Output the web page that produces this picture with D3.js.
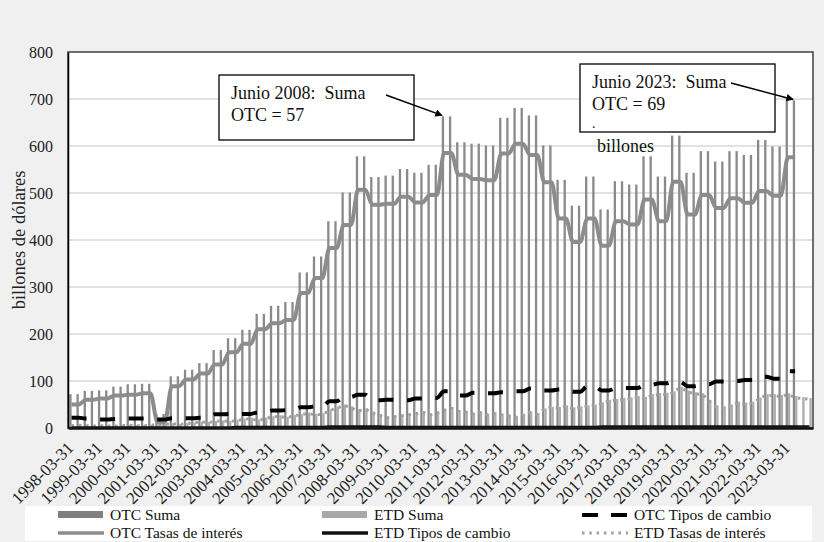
<!DOCTYPE html>
<html><head><meta charset="utf-8">
<script src="https://cdn.jsdelivr.net/npm/d3@7"></script>
<style>
body{margin:0;background:#f0f0f0;}
svg{display:block;font-family:"Liberation Serif","DejaVu Serif","Times New Roman",serif;}
text{white-space:pre;}
</style>
</head><body><svg id="c" width="824" height="542"></svg>
<script>
// ---------------- DATA ----------------
const years = [1998,1999,2000,2001,2002,2003,2004,2005,2006,2007,2008,2009,2010,2011,2012,2013,2014,2015,2016,2017,2018,2019,2020,2021,2022,2023];
const quarterEnds = ["03-31","06-30","09-30","12-31"];
const categories = years.flatMap(y => quarterEnds.map(q => `${y}-${q}`));
const tickLabels = years.map(y => `${y}-03-31`);
const yTicks = [0,100,200,300,400,500,600,700,800];

const otcSuma = [
72,72,79,79, 80,80,88,88, 93,93,94,94, 30,30,110,110, 124,124,138,138, 166,166,191,191,
209,209,243,243, 260,260,268,268, 331,331,365,365, 440,440,501,501, 578,578,534,534,
537,537,551,551, 543,543,560,560, 663,663,608,608, 605,605,601,601, 660,660,681,681,
665,665,601,601, 528,528,473,473, 535,535,465,465, 525,525,518,518, 578,578,535,535,
622,622,543,543, 589,589,567,567, 589,589,581,581, 613,613,599,599, 697,697,null,null];

const otcTasas = [
50,50,60,60, 63,63,69,69, 71,71,74,74, 12,12,89,89, 103,103,116,116, 135,135,161,161,
179,179,210,210, 223,223,230,230, 287,287,319,319, 383,383,432,432, 507,507,475,475,
477,477,492,492, 480,480,496,496, 585,585,539,539, 530,530,527,527, 584,584,605,605,
581,581,523,523, 446,446,396,396, 446,446,388,388, 440,440,433,433, 486,486,440,440,
524,524,454,454, 496,496,468,468, 489,489,479,479, 504,504,494,494, 576,576,null,null];

const otcFx = [
22,22,20,20, 18,18,19,19, 20,20,20,20, 18,18,21,21, 21,21,22,22, 29,29,30,30,
30,30,33,33, 37,37,38,38, 44,44,46,46, 57,57,66,66, 71,71,59,59,
60,60,59,59, 63,63,64,64, 78,78,69,69, 75,75,74,74, 76,76,78,78,
84,84,80,80, 82,82,77,77, 89,89,80,80, 85,85,85,85, 92,92,95,95,
98,98,89,89, 93,93,99,99, 100,100,102,102, 109,109,105,105, 121,121,null,null];

const etdSuma = [
6,7,6,5, 6,5,5,6, 7,6,6,7, 8,9,10,9, 10,12,14,13, 15,16,15,18, 20,22,18,22, 25,27,24,28,
30,33,30,32, 40,45,50,46, 40,42,35,30, 24,26,28,30, 32,35,30,34, 40,44,38,36, 32,35,30,33,
30,28,25,30, 35,32,42,45, 45,48,44,46, 48,50,55,60, 62,64,65,68, 66,72,74,75, 78,88,80,76,
74,60,48,46, 50,56,54,56, 65,72,72,70, 74,68,66,64];

const etdTasas = [
5,6,5,4, 5,4,4,5, 6,5,5,6, 7,8,9,8, 9,11,13,12, 14,15,14,16, 18,20,16,20, 23,25,22,26,
28,31,28,30, 37,42,47,43, 37,39,32,27, 22,24,26,28, 30,33,28,32, 38,42,36,34, 30,33,28,31,
28,26,23,28, 33,30,40,43, 43,46,42,44, 46,48,52,57, 59,61,62,65, 63,69,71,72, 75,85,77,73,
71,57,45,43, 47,53,51,53, 62,69,69,67, 71,65,63,61];

const etdFx = [
1,1,1,1, 1,1,1,1, 1,1,1,1, 1,1,1,1, 1,1,1,1, 1,1,1,2, 2,2,2,2, 2,2,2,2,
2,2,2,2, 3,3,3,3, 3,3,3,3, 2,2,2,2, 2,2,2,2, 2,2,2,2, 2,2,2,2, 2,2,2,2,
2,2,2,2, 2,2,2,2, 2,2,3,3, 3,3,3,3, 3,3,3,3, 3,3,3,3, 3,3,3,3, 3,3,3,3,
3,3,3,3, 3,3,3,3, 3,3,3,3];

const seriesNames = ["OTC Suma","ETD Suma","OTC Tipos de cambio","OTC Tasas de interés","ETD Tipos de cambio","ETD Tasas de interés"];
const yTitle = "billones de dólares";
const notes = [
  {lines:["Junio 2008:  Suma","OTC = 57"], target:"2011-03-31", value:663},
  {lines:["Junio 2023:  Suma","OTC = 69"], target:"2023-06-30", value:697}
];

// ---------------- LAYOUT ----------------
const svg = d3.select("#c");
const L = 68, R = 813, T = 52, B = 428;
const x = d3.scaleBand().domain(categories).range([L, R]).paddingInner(0).paddingOuter(0);
const y = d3.scaleLinear().domain([0, 800]).range([B, T]);
const bw = x.bandwidth();
const barW = 2.3;
const cx = c => x(c) + bw / 2;

svg.append("rect").attr("width", 824).attr("height", 542).attr("fill", "#f0f0f0");
svg.append("rect").attr("x", L).attr("y", T).attr("width", R - L).attr("height", B - T)
  .attr("fill", "#fff");

// gridlines
svg.append("g").selectAll("line").data(yTicks.filter(t => t > 0 && t < 800)).join("line")
  .attr("x1", L).attr("x2", R).attr("y1", d => y(d)).attr("y2", d => y(d))
  .attr("stroke", "#d9d9d9").attr("stroke-width", 1.3);

// bars
svg.append("g").selectAll("rect").data(categories.map((c, i) => ({c, v: otcSuma[i]})).filter(d => d.v != null))
  .join("rect")
  .attr("x", d => cx(d.c) - barW).attr("width", barW)
  .attr("y", d => y(d.v)).attr("height", d => y(0) - y(d.v))
  .attr("fill", "#8a8a8a");
svg.append("g").selectAll("rect").data(categories.map((c, i) => ({c, v: etdSuma[i]})))
  .join("rect")
  .attr("x", d => cx(d.c)).attr("width", barW)
  .attr("y", d => y(d.v)).attr("height", d => y(0) - y(d.v))
  .attr("fill", "#adadad");

const mkLine = arr => d3.line()
  .defined((d, i) => arr[i] != null)
  .x((d, i) => cx(categories[i]))
  .y((d, i) => y(arr[i]))
  .curve(d3.curveMonotoneX)(arr);

// ETD Tasas (dotted)
svg.append("path").attr("d", mkLine(etdTasas)).attr("fill", "none")
  .attr("stroke", "#a0a0a0").attr("stroke-width", 3).attr("stroke-dasharray", "2.5,4.8");
// ETD FX (solid black)
svg.append("path").attr("d", mkLine(etdFx)).attr("fill", "none")
  .attr("stroke", "#111").attr("stroke-width", 2.5);
// OTC Tasas (gray thick)
svg.append("path").attr("d", mkLine(otcTasas)).attr("fill", "none")
  .attr("stroke", "#8c8c8c").attr("stroke-width", 4).attr("stroke-linejoin", "round");
// OTC FX (dashed black)
svg.append("path").attr("d", mkLine(otcFx)).attr("fill", "none")
  .attr("stroke", "#000").attr("stroke-width", 4).attr("stroke-dasharray", "15,13.6");

// frame
svg.append("rect").attr("x", L).attr("y", T).attr("width", R - L).attr("height", B - T)
  .attr("fill", "none").attr("stroke", "#404040").attr("stroke-width", 1.5);

// axes
const yAxis = d3.axisLeft(y).tickValues(yTicks).tickSize(0).tickPadding(15);
const gy = svg.append("g").attr("transform", `translate(${L},0)`).call(yAxis);
gy.select(".domain").attr("stroke", "#000").attr("stroke-width", 1.5);
gy.selectAll("text").attr("font-size", 16).attr("font-family", "Liberation Serif").attr("fill", "#222");

const xAxis = d3.axisBottom(x).tickValues(tickLabels).tickSize(0).tickFormat(d => d);
const gx = svg.append("g").attr("transform", `translate(0,${B})`).call(xAxis);
gx.select(".domain").attr("stroke", "#111").attr("stroke-width", 2.5);
gx.selectAll("text")
  .attr("font-size", 17).attr("font-family", "Liberation Serif").attr("fill", "#222")
  .attr("text-anchor", "end").attr("dy", null).attr("y", 0)
  .attr("transform", `translate(3,21) rotate(-45)`);

// y title
svg.append("text").attr("transform", "translate(25,240) rotate(-90)")
  .attr("text-anchor", "middle").attr("font-size", 18.5).attr("fill", "#222").text(yTitle);

// annotations
const defs = svg.append("defs");
defs.append("marker").attr("id", "arr").attr("viewBox", "0 0 10 10").attr("refX", 9).attr("refY", 5)
  .attr("markerWidth", 5).attr("markerHeight", 5).attr("orient", "auto")
  .append("path").attr("d", "M0,0 L10,5 L0,10 z").attr("fill", "#000");

const boxes = [
  {x: 219, y: 75, w: 195, h: 65, tx: 231, ty: 99, ax: 386, ay: 95},
  {x: 580, y: 64, w: 195, h: 68, tx: 592, ty: 88, ax: 731, ay: 83}
];
notes.forEach((n, k) => {
  const b = boxes[k];
  svg.append("rect").attr("x", b.x).attr("y", b.y).attr("width", b.w).attr("height", b.h)
    .attr("fill", "#fff").attr("stroke", "#000").attr("stroke-width", 1.3);
  n.lines.forEach((t, j) => svg.append("text").attr("x", b.tx).attr("y", b.ty + j * 22)
    .attr("font-size", 18).attr("fill", "#111").text(t));
  svg.append("line").attr("x1", b.ax).attr("y1", b.ay)
    .attr("x2", cx(n.target) - 2).attr("y2", y(n.value) - 1)
    .attr("stroke", "#000").attr("stroke-width", 1.5).attr("marker-end", "url(#arr)");
});
svg.append("text").attr("x", 592).attr("y", 128).attr("font-size", 14).attr("fill", "#111").text(".");
svg.append("text").attr("x", 597).attr("y", 152).attr("font-size", 18).attr("fill", "#111").text("billones");

// legend
svg.append("rect").attr("x", 25).attr("y", 506).attr("width", 787).attr("height", 35).attr("fill", "#fff");
const lg = svg.append("g").attr("font-size", 15.5).attr("fill", "#111");
const legendItems = [
  {name: seriesNames[0], x: 58, y: 515, type: "rect", color: "#808080"},
  {name: seriesNames[1], x: 322, y: 515, type: "rect", color: "#a8a8a8"},
  {name: seriesNames[2], x: 582, y: 515, type: "line", color: "#000", dash: "16,13", w: 4},
  {name: seriesNames[3], x: 58, y: 533, type: "line", color: "#8c8c8c", w: 3.5},
  {name: seriesNames[4], x: 322, y: 533, type: "line", color: "#111", w: 3.5},
  {name: seriesNames[5], x: 582, y: 533, type: "line", color: "#a0a0a0", dash: "2.5,4.8", w: 3}
];
legendItems.forEach(it => {
  if (it.type === "rect") {
    lg.append("rect").attr("x", it.x).attr("y", it.y - 4).attr("width", 45).attr("height", 7).attr("fill", it.color);
  } else {
    lg.append("line").attr("x1", it.x).attr("x2", it.x + 46).attr("y1", it.y).attr("y2", it.y)
      .attr("stroke", it.color).attr("stroke-width", it.w).attr("stroke-dasharray", it.dash || null);
  }
  lg.append("text").attr("x", it.x + 52).attr("y", it.y + 5).text(it.name);
});
</script>
</body></html>
